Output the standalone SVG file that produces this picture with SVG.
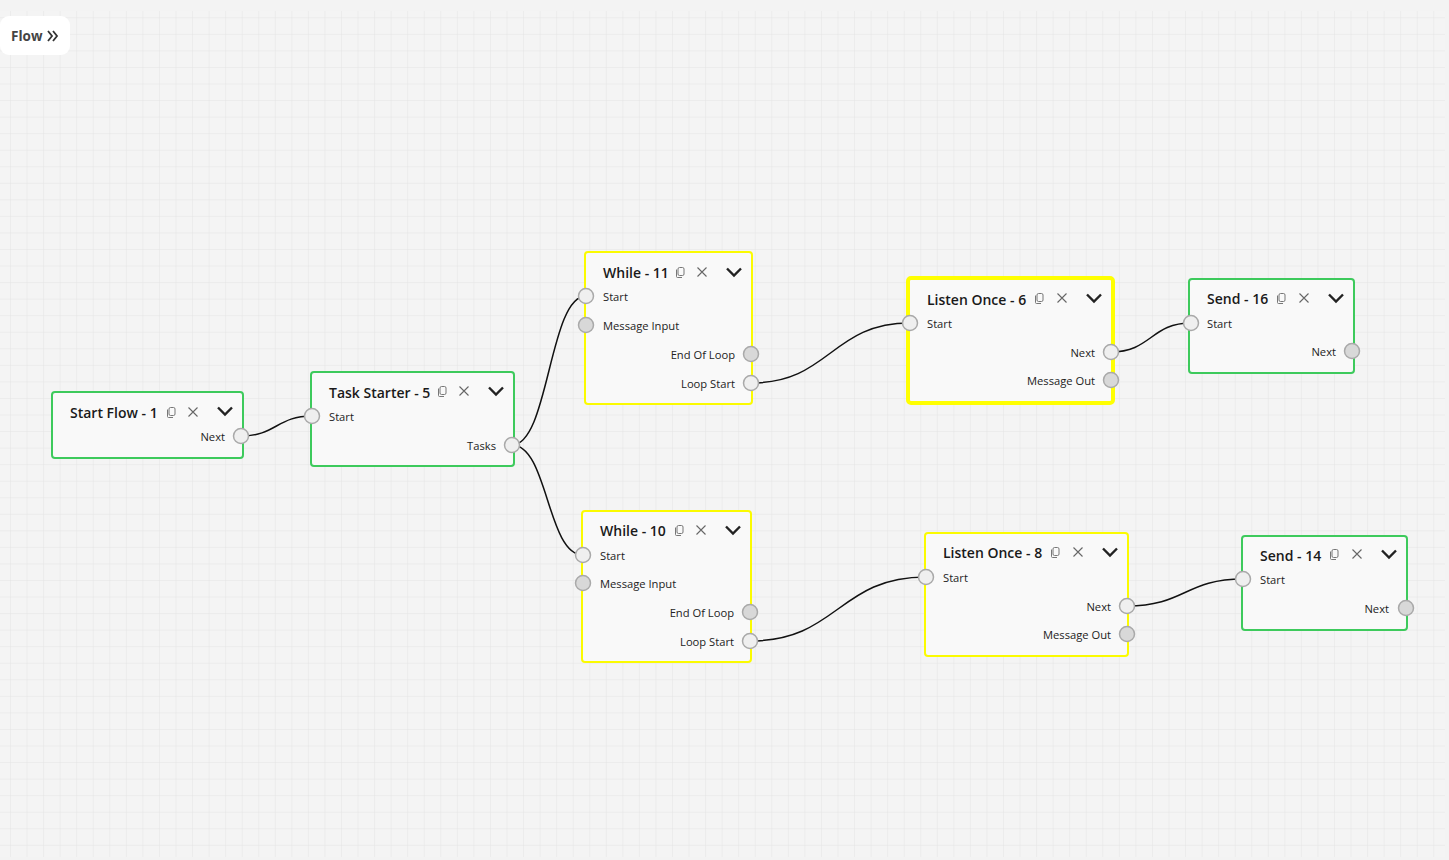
<svg xmlns="http://www.w3.org/2000/svg" width="1449" height="860" viewBox="0 0 1449 860">
<defs>
<pattern id="grid" x="10" y="17.3" width="16.55" height="16.55" patternUnits="userSpaceOnUse">
<path d="M0 0 H16.55 M0 0 V16.55" fill="none" stroke="#e3e3e3" stroke-width="1"/>
</pattern>
<g id="copy"><rect x="-2" y="-4.5" width="6" height="8" rx="1.5" fill="none" stroke="#777" stroke-width="1"/><path d="M-3.5 -2.5 V4.5 Q-3.5 5.5 -2.5 5.5 H2" fill="none" stroke="#777" stroke-width="1"/></g>
<g id="close"><path d="M-4.5 -4.5 L4.5 4.5 M4.5 -4.5 L-4.5 4.5" stroke="#666" stroke-width="1.1"/></g>
<g id="chev"><path d="M-7 -3.5 L0 3.5 L7 -3.5" fill="none" stroke="#222" stroke-width="2.4" stroke-linejoin="miter"/></g>
</defs>
<style>
.title{font-family:"Segoe UI","Open Sans","Noto Sans",sans-serif;font-size:14px;font-weight:600;fill:#1a1a1a}
.lbl{font-family:"Segoe UI","Open Sans","Noto Sans",sans-serif;font-size:11.2px;fill:#222}
.r{text-anchor:end}
.node{fill:#f9f9f9;stroke-width:2}
.g{stroke:#3dca5c}
.y{stroke:#fbfb00}
.sel{stroke:#ffff00;stroke-width:4}
.pl{fill:#efefef;stroke:#a9a9a9;stroke-width:1.5}
.pd{fill:#d8d8d8;stroke:#a9a9a9;stroke-width:1.5}
.wire{fill:none;stroke:#111;stroke-width:1.5}
</style>
<rect x="0" y="0" width="1449" height="860" fill="#f3f3f3"/>
<rect x="0" y="11" width="1445" height="846" fill="#f4f4f4"/>
<rect x="0" y="11" width="1445" height="846" fill="url(#grid)"/>

<g id="flow-button">
<rect x="0" y="16" width="70" height="39" rx="9" fill="#ffffff"/>
<text x="11" y="41" style="font-family:'Open Sans','Noto Sans',sans-serif;font-size:13.5px;font-weight:700;fill:#444">Flow</text>
<path d="M48 31 L52 36 L48 41 M53 31 L57 36 L53 41" fill="none" stroke="#333" stroke-width="1.8"/>
</g>

<g id="connectors">
<path class="wire" d="M241 436 C276 436 277 416 312 416"/>
<path class="wire" d="M512 445 C549 445 549 296 586 296"/>
<path class="wire" d="M512 445 C548 445 547 555 583 555"/>
<path class="wire" d="M751 383 C830 383 831 323 910 323"/>
<path class="wire" d="M1111 352 C1151 352 1151 323 1191 323"/>
<path class="wire" d="M750 641 C838 641 838 577 926 577"/>
<path class="wire" d="M1127 606 C1185 606 1185 579 1243 579"/>
</g>

<g id="start-flow-1">
<rect class="node g" x="52" y="392" width="191" height="66" rx="3"/>
<text class="title" x="70" y="418">Start Flow - 1</text>
<use href="#copy" x="171" y="412"/><use href="#close" x="193" y="412"/><use href="#chev" x="225" y="411"/>
<text class="lbl r" x="225" y="441">Next</text>
<circle class="pl" cx="241" cy="436" r="7.5"/>
</g>

<g id="task-starter-5">
<rect class="node g" x="311" y="372" width="203" height="94" rx="3"/>
<text class="title" x="329" y="398">Task Starter - 5</text>
<use href="#copy" x="442" y="391"/><use href="#close" x="464" y="391"/><use href="#chev" x="496" y="391"/>
<text class="lbl" x="329" y="421">Start</text>
<text class="lbl r" x="496" y="450">Tasks</text>
<circle class="pl" cx="312" cy="416" r="7.5"/>
<circle class="pl" cx="512" cy="445" r="7.5"/>
</g>

<g id="while-11">
<rect class="node y" x="585" y="252" width="167" height="152" rx="3"/>
<text class="title" x="603" y="278">While - 11</text>
<use href="#copy" x="680" y="272"/><use href="#close" x="702" y="272"/><use href="#chev" x="734" y="272"/>
<text class="lbl" x="603" y="301">Start</text>
<text class="lbl" x="603" y="330">Message Input</text>
<text class="lbl r" x="735" y="359">End Of Loop</text>
<text class="lbl r" x="735" y="388">Loop Start</text>
<circle class="pl" cx="586" cy="296" r="7.5"/>
<circle class="pd" cx="586" cy="325" r="7.5"/>
<circle class="pd" cx="751" cy="354" r="7.5"/>
<circle class="pl" cx="751" cy="383" r="7.5"/>
</g>

<g id="listen-once-6">
<rect class="node sel" x="908" y="278" width="205" height="125" rx="3"/>
<text class="title" x="927" y="305">Listen Once - 6</text>
<use href="#copy" x="1039" y="298"/><use href="#close" x="1062" y="298"/><use href="#chev" x="1094" y="298"/>
<text class="lbl" x="927" y="328">Start</text>
<text class="lbl r" x="1095" y="357">Next</text>
<text class="lbl r" x="1095" y="385">Message Out</text>
<circle class="pl" cx="910" cy="323" r="7.5"/>
<circle class="pl" cx="1111" cy="352" r="7.5"/>
<circle class="pd" cx="1111" cy="380" r="7.5"/>
</g>

<g id="send-16">
<rect class="node g" x="1189" y="279" width="165" height="94" rx="3"/>
<text class="title" x="1207" y="304">Send - 16</text>
<use href="#copy" x="1281" y="298"/><use href="#close" x="1304" y="298"/><use href="#chev" x="1336" y="298"/>
<text class="lbl" x="1207" y="328">Start</text>
<text class="lbl r" x="1336" y="356">Next</text>
<circle class="pl" cx="1191" cy="323" r="7.5"/>
<circle class="pd" cx="1352" cy="351" r="7.5"/>
</g>

<g id="while-10">
<rect class="node y" x="582" y="511" width="169" height="151" rx="3"/>
<text class="title" x="600" y="536">While - 10</text>
<use href="#copy" x="679" y="530"/><use href="#close" x="701" y="530"/><use href="#chev" x="733" y="530"/>
<text class="lbl" x="600" y="560">Start</text>
<text class="lbl" x="600" y="588">Message Input</text>
<text class="lbl r" x="734" y="617">End Of Loop</text>
<text class="lbl r" x="734" y="646">Loop Start</text>
<circle class="pl" cx="583" cy="555" r="7.5"/>
<circle class="pd" cx="583" cy="583" r="7.5"/>
<circle class="pd" cx="750" cy="612" r="7.5"/>
<circle class="pl" cx="750" cy="641" r="7.5"/>
</g>

<g id="listen-once-8">
<rect class="node y" x="925" y="533" width="203" height="123" rx="3"/>
<text class="title" x="943" y="558">Listen Once - 8</text>
<use href="#copy" x="1055" y="552"/><use href="#close" x="1078" y="552"/><use href="#chev" x="1110" y="552"/>
<text class="lbl" x="943" y="582">Start</text>
<text class="lbl r" x="1111" y="611">Next</text>
<text class="lbl r" x="1111" y="639">Message Out</text>
<circle class="pl" cx="926" cy="577" r="7.5"/>
<circle class="pl" cx="1127" cy="606" r="7.5"/>
<circle class="pd" cx="1127" cy="634" r="7.5"/>
</g>

<g id="send-14">
<rect class="node g" x="1242" y="536" width="165" height="94" rx="3"/>
<text class="title" x="1260" y="561">Send - 14</text>
<use href="#copy" x="1334" y="554"/><use href="#close" x="1357" y="554"/><use href="#chev" x="1389" y="554"/>
<text class="lbl" x="1260" y="584">Start</text>
<text class="lbl r" x="1389" y="613">Next</text>
<circle class="pl" cx="1243" cy="579" r="7.5"/>
<circle class="pd" cx="1406" cy="608" r="7.5"/>
</g>
</svg>
